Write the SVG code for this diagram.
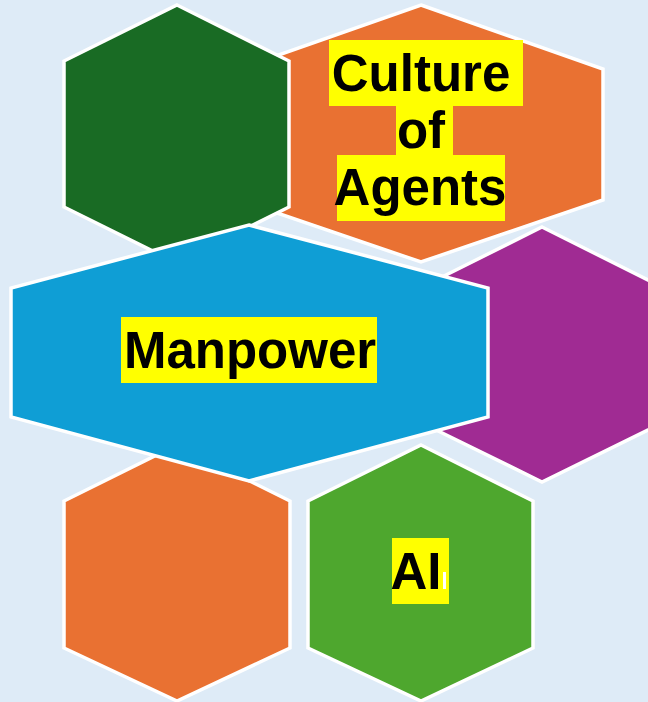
<svg xmlns="http://www.w3.org/2000/svg" width="648" height="702" viewBox="0 0 648 702">
  <style>
    .hex { stroke: #ffffff; stroke-width: 3.5; stroke-linejoin: miter; }
    .hl { fill: #ffff00; }
    .lbl { font-family: "Liberation Sans", Arial, sans-serif; font-weight: bold; font-size: 51px; fill: #000000; text-anchor: middle; }
  </style>
  <rect x="0" y="0" width="648" height="702" fill="#deebf7"/>
  <g id="node-culture">
    <polygon class="hex" fill="#e97132" points="421,5 603,69 603,200 421,262 239,200 239,69"/>
  </g>
  <g id="node-darkgreen">
    <polygon class="hex" fill="#196b24" points="177,5 289,61 289,207 177,263 64,207 64,61"/>
  </g>
  <g id="node-purple">
    <polygon class="hex" fill="#a02b93" points="542,227 656,284 656,426 542,482 428,426 428,284"/>
  </g>
  <g id="node-orange-bottom">
    <polygon class="hex" fill="#e97132" points="177,445 290,501 290,648 177,701 64,648 64,501"/>
  </g>
  <g id="node-ai">
    <polygon class="hex" fill="#4ea72e" points="421,445 533,501 533,648 421,701 308,648 308,501"/>
  </g>
  <g id="node-manpower">
    <polygon class="hex" fill="#0f9ed5" points="249,225 488,288 488,417 249,481 11,417 11,288"/>
  </g>
  <g id="labels">
    <rect class="hl" x="329" y="40" width="194" height="66"/>
    <rect class="hl" x="396" y="106" width="57" height="49"/>
    <rect class="hl" x="337" y="155" width="168" height="66"/>
    <text class="lbl" x="421" y="91">Culture</text>
    <text class="lbl" x="421" y="148">of</text>
    <text class="lbl" x="420" y="205">Agents</text>
    <rect class="hl" x="121" y="317" width="256" height="66"/>
    <text class="lbl" x="250" y="368">Manpower</text>
    <rect class="hl" x="392" y="538" width="57" height="66"/>
    <text class="lbl" x="416" y="589">AI</text>
    <rect x="443" y="572" width="3" height="17" fill="#ffffff"/>
  </g>
  <g id="connectors"></g>
</svg>
